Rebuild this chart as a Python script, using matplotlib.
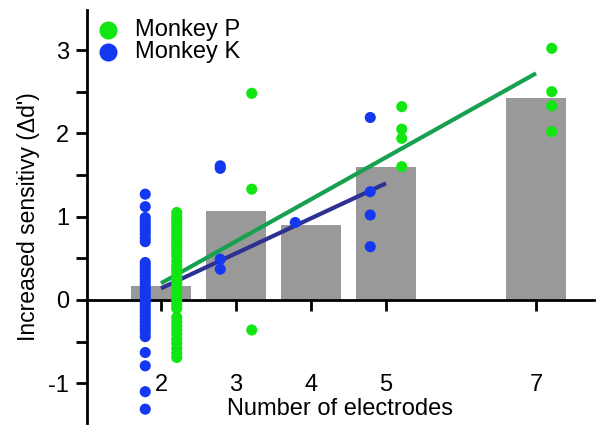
import matplotlib
matplotlib.use("Agg")
import matplotlib.pyplot as plt
from matplotlib.ticker import MultipleLocator

plt.rcParams['font.family'] = ['Liberation Sans', 'DejaVu Sans']
plt.rcParams['axes.unicode_minus'] = False

# bars: mean increase per electrode count
electrodes = [2, 3, 4, 5, 7]
bar_means = [0.17, 1.07, 0.90, 1.60, 2.43]

# single sessions, monkey P (green) and monkey K (blue)
p_n2 = [1.05, 1.00, 0.96, 0.92, 0.88, 0.83, 0.79, 0.74, 0.70, 0.66, 0.62, 0.58,
        0.53, 0.47, 0.42, 0.38, 0.34, 0.30, 0.26, 0.22, 0.18, 0.14, 0.10, 0.06,
        0.02, -0.02, -0.06, -0.10, -0.21, -0.26, -0.31, -0.36, -0.41, -0.47,
        -0.52, -0.58, -0.64, -0.69]
p_n3 = [2.48, 1.33, -0.36]
p_n5 = [2.32, 2.05, 1.94, 1.60]
p_n7 = [3.02, 2.50, 2.33, 2.02]

k_n2 = [1.27, 1.12, 0.99, 0.95, 0.91, 0.87, 0.83, 0.79, 0.74, 0.70, 0.45, 0.41,
        0.37, 0.33, 0.29, 0.25, 0.21, 0.17, 0.13, 0.09, 0.05, 0.01, -0.03, -0.07,
        -0.11, -0.15, -0.19, -0.23, -0.27, -0.31, -0.35, -0.39, -0.44, -0.63,
        -0.79, -1.10, -1.31]
k_n3 = [1.61, 1.58, 0.49, 0.37]
k_n4 = [0.93]
k_n5 = [2.19, 1.30, 1.02, 0.64]

# regression lines (end points in electrodes / d')
p_fit_x = [2.0, 7.0]
p_fit_y = [0.20, 2.72]
k_fit_x = [2.0, 5.0]
k_fit_y = [0.14, 1.40]

green_dot = '#12e612'
blue_dot = '#1438f0'
green_line = '#17a04f'
blue_line = '#2e3192'

fig = plt.figure(figsize=(6.04, 4.33), dpi=100)
ax = fig.add_axes([0.144, 0.0231, 0.8394, 0.9538])

ax.bar(electrodes, bar_means, width=0.81, color='#999999', zorder=1)
ax.plot(p_fit_x, p_fit_y, color=green_line, lw=3, zorder=3, solid_capstyle='butt')
ax.plot(k_fit_x, k_fit_y, color=blue_line, lw=3, zorder=3, solid_capstyle='butt')

p_groups = [(2, p_n2), (3, p_n3), (5, p_n5), (7, p_n7)]
k_groups = [(2, k_n2), (3, k_n3), (4, k_n4), (5, k_n5)]
for n, vals in p_groups:
    ax.scatter([n + 0.21] * len(vals), vals, s=64, color=green_dot,
               edgecolors='none', zorder=4)
for n, vals in k_groups:
    ax.scatter([n - 0.21] * len(vals), vals, s=64, color=blue_dot,
               edgecolors='none', zorder=4)

# legend
ax.plot([0.0414], [0.9516], 'o', ms=12, color=green_dot, transform=ax.transAxes,
        clip_on=False)
ax.plot([0.0414], [0.898], 'o', ms=12, color=blue_dot, transform=ax.transAxes,
        clip_on=False)
ax.text(0.0947, 0.9516, 'Monkey P', fontsize=17, va='center', transform=ax.transAxes)
ax.text(0.0947, 0.898, 'Monkey K', fontsize=17, va='center', transform=ax.transAxes)

ax.set_xlim(1.013, 7.773)
ax.set_ylim(-1.476, 3.48)
ax.spines['top'].set_visible(False)
ax.spines['right'].set_visible(False)
ax.spines['bottom'].set_position(('data', 0))
ax.spines['left'].set_linewidth(2)
ax.spines['bottom'].set_linewidth(2)
ax.spines['bottom'].set_zorder(2)

ax.set_xticks(electrodes)
ax.set_xticklabels([str(e) for e in electrodes])
ax.yaxis.set_major_locator(MultipleLocator(1))
ax.yaxis.set_minor_locator(MultipleLocator(0.5))
ax.tick_params(axis='both', which='both', length=8, width=2, labelsize=17)
ax.tick_params(axis='x', pad=45)
ax.tick_params(axis='y', pad=5)

ax.set_xlabel('Number of electrodes', fontsize=17, labelpad=2)
ax.set_ylabel("Increased sensitivy (\u0394d')", fontsize=16.5, labelpad=6)

fig.savefig('out.png', dpi=100)
